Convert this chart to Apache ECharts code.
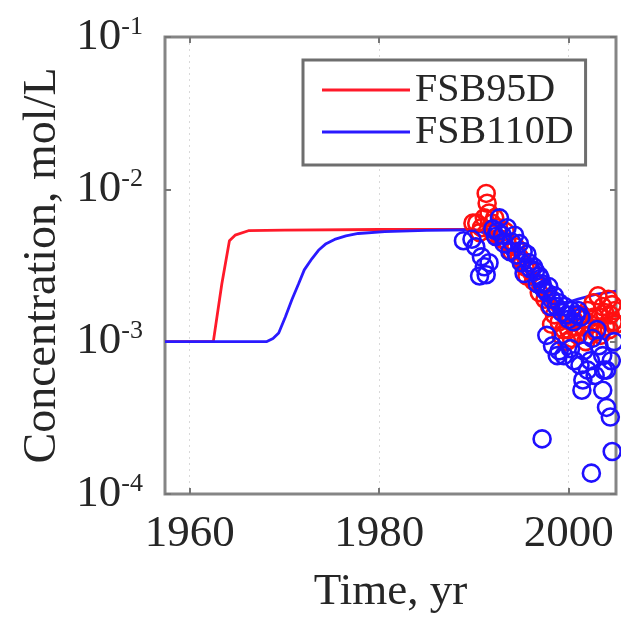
<!DOCTYPE html>
<html>
<head>
<meta charset="utf-8">
<script src="https://cdn.jsdelivr.net/npm/echarts@6/dist/echarts.min.js"></script>
<style>
html,body{margin:0;padding:0;background:#fff;}
#chart{width:621px;height:620px;}
</style>
</head>
<body>
<div id="chart"></div>
<script>
// ---- data ----
var xTicks = [1960, 1980, 2000];
var yTicks = [1e-4, 1e-3, 1e-2, 1e-1];
var seriesNames = ['FSB95D', 'FSB110D'];

// model curves [year, mol/L]
var modelRed = [
  [1957.4, 1.0e-3], [1962.5, 1.0e-3], [1963.4, 2.4e-3], [1964.2, 4.6e-3], [1964.8, 5.0e-3],
  [1966.2, 5.35e-3], [1970, 5.4e-3], [1980, 5.45e-3], [1990, 5.45e-3],
  [1991, 5.3e-3], [1992, 5.0e-3], [1993, 4.5e-3], [1994, 3.9e-3], [1995, 3.2e-3],
  [1996, 2.6e-3], [1997, 2.1e-3], [1998, 1.7e-3], [1999, 1.45e-3], [2000, 1.3e-3],
  [2001, 1.3e-3], [2002, 1.35e-3], [2003, 1.4e-3], [2004, 1.45e-3], [2005, 1.5e-3]
];
var modelBlue = [
  [1957.4, 1.0e-3], [1968.1, 1.0e-3], [1968.8, 1.05e-3], [1969.4, 1.14e-3], [1970.1, 1.45e-3],
  [1970.8, 1.89e-3], [1971.5, 2.4e-3], [1972.1, 2.96e-3], [1972.9, 3.5e-3], [1973.6, 3.98e-3],
  [1974.4, 4.4e-3], [1975.3, 4.69e-3], [1976.5, 4.95e-3], [1977.8, 5.13e-3], [1980.6, 5.28e-3],
  [1985, 5.38e-3], [1990, 5.43e-3], [1991, 5.2e-3], [1992, 4.7e-3], [1993, 4.1e-3],
  [1994, 3.5e-3], [1995, 2.9e-3], [1996, 2.4e-3], [1997, 2.05e-3], [1998, 1.85e-3],
  [1999, 1.8e-3], [2000, 1.82e-3], [2001, 1.9e-3], [2002, 1.98e-3], [2003, 2.05e-3],
  [2004, 2.1e-3], [2005, 2.15e-3]
];

// observations [year, mol/L]
var obsRed = [
  [1989.9, 6.0e-3], [1990.3, 6.0e-3], [1990.6, 5.2e-3], [1990.8, 5.6e-3], [1991.1, 6.5e-3],
  [1991.3, 9.4e-3], [1991.4, 8.1e-3], [1991.6, 7.0e-3], [1991.9, 6.0e-3], [1992.2, 6.5e-3],
  [1992.6, 5.6e-3], [1993.5, 4.5e-3], [1994.0, 3.9e-3], [1994.8, 3.6e-3], [1995.4, 3.1e-3],
  [1995.6, 2.7e-3], [1996.3, 2.5e-3], [1996.9, 2.1e-3], [1997.5, 1.9e-3], [1998.0, 1.7e-3],
  [1998.5, 1.5e-3], [1999.0, 1.35e-3], [1999.5, 1.2e-3], [2000.0, 1.2e-3], [2000.3, 1.05e-3],
  [2000.6, 1.35e-3], [2001.0, 1.1e-3], [2001.2, 1.5e-3], [2001.5, 1.25e-3], [2001.8, 1.0e-3],
  [2002.0, 1.6e-3], [2002.3, 1.3e-3], [2002.6, 1.8e-3], [2002.9, 1.15e-3], [2003.1, 2.0e-3],
  [2003.3, 1.45e-3], [2003.6, 1.7e-3], [2003.9, 1.25e-3], [2004.2, 1.9e-3], [2004.4, 1.5e-3],
  [2004.7, 1.35e-3], [2004.9, 1.6e-3], [1992.0, 5.2e-3], [1992.9, 4.7e-3], [1993.3, 5.3e-3],
  [1994.4, 4.2e-3], [1995.1, 3.4e-3], [1996.0, 2.9e-3], [1997.2, 2.3e-3], [1998.2, 1.3e-3],
  [1999.2, 1.1e-3], [1999.8, 1.0e-3], [2000.8, 1.25e-3], [2001.6, 1.4e-3], [2002.1, 1.1e-3],
  [2002.7, 1.45e-3], [2003.4, 1.1e-3], [2003.8, 1.55e-3], [2004.3, 1.2e-3], [2004.6, 1.75e-3],
  [2005.0, 1.3e-3]
];
var obsBlue = [
  [1988.9, 4.6e-3], [1989.8, 4.7e-3], [1990.2, 4.2e-3], [1990.8, 3.6e-3], [1991.1, 3.1e-3],
  [1990.6, 2.7e-3], [1991.3, 2.75e-3], [1991.6, 3.3e-3], [1992.5, 5.3e-3], [1992.7, 6.5e-3],
  [1993.5, 5.6e-3], [1994.3, 5.0e-3], [1994.8, 4.4e-3], [1993.8, 3.9e-3], [1995.6, 3.75e-3],
  [1995.0, 3.3e-3], [1996.0, 3.0e-3], [1996.3, 3.1e-3], [1996.9, 2.7e-3], [1995.3, 2.8e-3],
  [1997.2, 2.4e-3], [1997.7, 2.1e-3], [1998.2, 1.9e-3], [1998.7, 1.7e-3], [1999.3, 1.55e-3],
  [1999.8, 1.5e-3], [2000.3, 1.6e-3], [2000.8, 1.5e-3], [1997.7, 1.1e-3], [1998.3, 9.4e-4],
  [1999.0, 8.7e-4], [1998.8, 8.1e-4], [1999.5, 8.1e-4], [2000.2, 9.0e-4], [2000.6, 7.5e-4],
  [2001.2, 7.0e-4], [2001.6, 8.7e-4], [2002.0, 6.5e-4], [2002.3, 7.5e-4], [2002.8, 6.0e-4],
  [2003.2, 9.4e-4], [2003.6, 8.1e-4], [2004.0, 6.5e-4], [2004.5, 7.5e-4], [2001.5, 5.6e-4],
  [2001.4, 4.8e-4], [2003.6, 4.8e-4], [2004.0, 3.7e-4], [2004.4, 3.2e-4], [2003.7, 6.5e-4],
  [1997.2, 2.3e-4], [2004.6, 1.9e-4], [2002.4, 1.37e-4], [2002.5, 1.05e-3], [2003.0, 1.2e-3],
  [2004.8, 1.0e-3], [1992.0, 5.5e-3], [1992.3, 4.9e-3], [1993.0, 5.0e-3], [1993.2, 4.4e-3],
  [1994.0, 4.5e-3], [1994.5, 3.7e-3], [1995.2, 3.9e-3], [1995.8, 3.3e-3], [1996.5, 2.9e-3],
  [1996.7, 2.4e-3], [1997.0, 2.6e-3], [1997.4, 2.2e-3], [1997.9, 2.3e-3], [1998.1, 1.7e-3],
  [1998.5, 2.0e-3], [1999.0, 1.8e-3], [1999.6, 1.7e-3], [2000.0, 1.4e-3], [2000.5, 1.35e-3],
  [2001.0, 1.6e-3], [2001.3, 1.45e-3]
];

// ---- chart ----
var FONT = 'Liberation Serif';
var TXT = '#262626';
var chart = echarts.init(document.getElementById('chart'), null, {renderer: 'canvas'});

function expLabel(v) {
  var e = Math.round(Math.log(v) / Math.LN10);
  return '{b|10}{s|' + e + '}';
}

var tickStyle = {color: '#777', width: 2};
var xBase = {
  type: 'value', min: 1957.4, max: 2005,
  axisLine: {show: false},
  splitLine: {show: false}
};

var option = {
  backgroundColor: '#ffffff',
  animation: false,
  grid: {left: 165, top: 37, right: 5, bottom: 118, show: true,
         borderColor: '#858585', borderWidth: 3, backgroundColor: 'transparent'},
  legend: {
    data: seriesNames,
    orient: 'vertical',
    left: 303, top: 60,
    padding: [10, 12, 13, 19],
    itemWidth: 88, itemHeight: 3, itemGap: 2, itemTextGap: 7,
    icon: 'rect',
    borderColor: '#6e6e6e', borderWidth: 3,
    backgroundColor: '#fff',
    textStyle: {fontFamily: FONT, fontSize: 40, color: TXT, lineHeight: 40}
  },
  xAxis: [
    Object.assign({}, xBase, {
      position: 'bottom',
      name: 'Time, yr', nameLocation: 'middle', nameGap: 76,
      nameTextStyle: {fontFamily: FONT, fontSize: 45, color: TXT},
      axisTick: {show: true, inside: true, length: 6, lineStyle: tickStyle, customValues: xTicks},
      axisLabel: {show: true, margin: 18, fontFamily: FONT, fontSize: 45, color: TXT,
                  customValues: xTicks, formatter: function (v) { return String(v); }},
      splitLine: {show: true, lineStyle: {color: '#d9d9d9', width: 1, type: [2, 4]}}
    }),
    Object.assign({}, xBase, {
      position: 'top',
      axisTick: {show: true, inside: true, length: 6, lineStyle: tickStyle, customValues: xTicks},
      axisLabel: {show: false}
    })
  ],
  yAxis: [
    {
      type: 'log', logBase: 10, min: 1e-4, max: 1e-1,
      name: 'Concentration, mol/L', nameLocation: 'middle', nameGap: 96,
      nameTextStyle: {fontFamily: FONT, fontSize: 46, color: TXT},
      axisLine: {show: false},
      axisTick: {show: true, inside: true, length: 6, lineStyle: tickStyle},
      axisLabel: {
        margin: 22,
        formatter: expLabel,
        rich: {
          b: {fontFamily: FONT, fontSize: 45, color: TXT, lineHeight: 46},
          s: {fontFamily: FONT, fontSize: 26, color: TXT, verticalAlign: 'top', lineHeight: 46}
        }
      },
      splitLine: {show: false}
    },
    {
      type: 'log', logBase: 10, min: 1e-4, max: 1e-1, position: 'right',
      axisLine: {show: false},
      axisTick: {show: true, inside: true, length: 6, lineStyle: tickStyle},
      axisLabel: {show: false},
      splitLine: {show: false}
    }
  ],
  series: [
    {
      name: 'FSB95D', type: 'line', data: modelRed, showSymbol: false, symbol: 'none',
      lineStyle: {color: '#ff1a2a', width: 2.8}, itemStyle: {color: '#ff1a2a'},
      z: 1, clip: true
    },
    {
      name: 'FSB110D', type: 'line', data: modelBlue, showSymbol: false, symbol: 'none',
      lineStyle: {color: '#2a1aff', width: 2.8}, itemStyle: {color: '#2a1aff'},
      z: 1, clip: true
    },
    {
      name: 'FSB95D obs', type: 'scatter', data: obsRed, symbol: 'circle', symbolSize: 17,
      itemStyle: {color: 'transparent', borderColor: '#ff1010', borderWidth: 2.6, opacity: 1},
      z: 2, clip: true
    },
    {
      name: 'FSB110D obs', type: 'scatter', data: obsBlue, symbol: 'circle', symbolSize: 17,
      itemStyle: {color: 'transparent', borderColor: '#1f10ff', borderWidth: 2.6, opacity: 1},
      z: 2, clip: true
    }
  ]
};
chart.setOption(option);
</script>
</body>
</html>
